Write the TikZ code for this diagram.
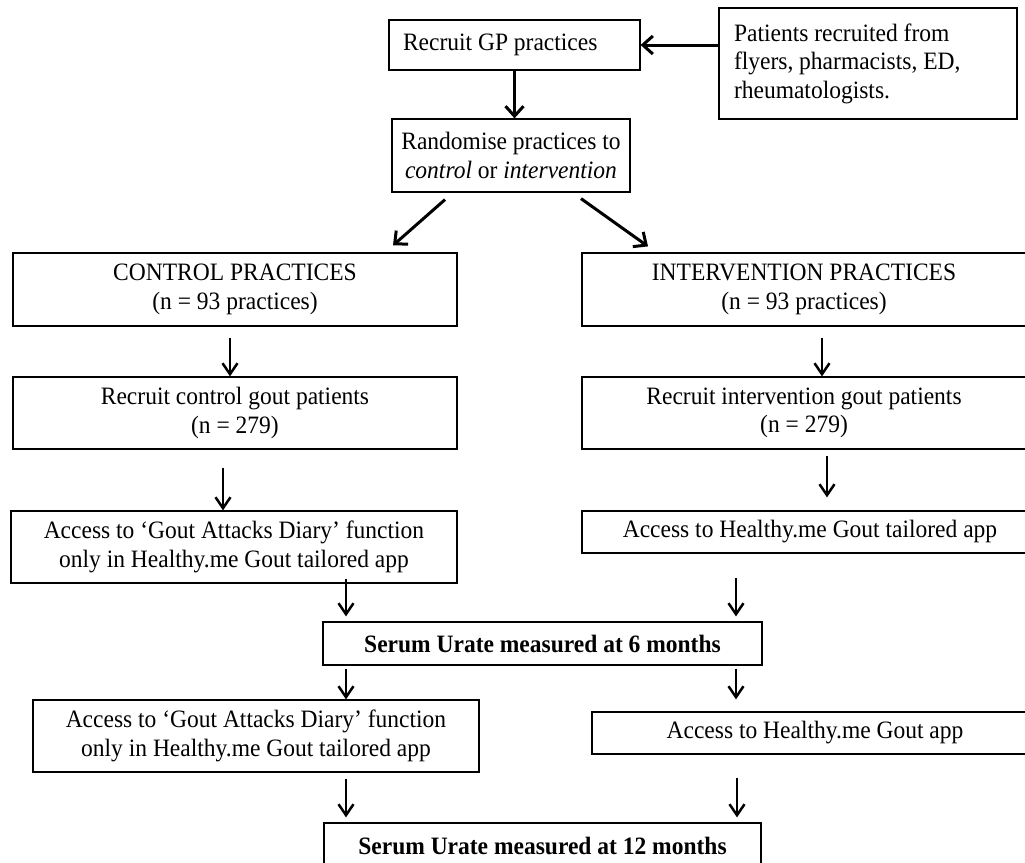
\documentclass[tikz,border=0pt]{standalone}
\usepackage{fontspec}
\setmainfont{Liberation Serif}[FakeStretch=0.94]
\usetikzlibrary{arrows.meta,shadows}
\begin{document}
\begin{tikzpicture}[x=1pt,y=-1pt,
  box/.style={draw=black, line width=1.2pt, fill=white, inner sep=0pt, align=center,
    font=\fontsize{25}{28.5}\selectfont,
    drop shadow={shadow xshift=1.3pt, shadow yshift=-1.3pt, fill=black!40, opacity=1}},
  bigarr/.style={line width=3pt, -{Straight Barb[length=10pt,width=18pt,line width=3pt]}},
  arr/.style={line width=2.5pt, -{Straight Barb[length=11pt,width=15pt,line width=2.5pt]}}]
\useasboundingbox (0,0) rectangle (1025,862);

\node[box, text width=223pt, align=flush left, inner xsep=14pt, minimum height=50pt] (gp) at (514.5,45) {Recruit GP practices};
\node[box, text width=268pt, align=flush left, inner xsep=15pt, minimum height=111pt] (pat) at (868,63.5)
  {Patients recruited from\\flyers, pharmacists, ED,\\rheumatologists.};
\node[box, minimum width=238pt, minimum height=73pt] (rand) at (511,155.5)
  {Randomise practices to\\\textit{control} or \textit{intervention}};

\node[box, minimum width=444pt, minimum height=73pt] (ctrl) at (235,289.5)
  {CONTROL PRACTICES\\(n = 93 practices)};
\node[box, minimum width=444pt, minimum height=73pt] (intv) at (804,289.5)
  {INTERVENTION PRACTICES\\(n = 93 practices)};

\node[box, minimum width=444pt, minimum height=72pt] (rc) at (235,413)
  {Recruit control gout patients\\(n = 279)};
\node[box, minimum width=444pt, minimum height=72pt] (ri) at (804,413)
  {Recruit intervention gout patients\\(n = 279)};

\node[box, minimum width=446pt, minimum height=72pt] (ac) at (234,547)
  {Access to ‘Gout Attacks Diary’ function\\only in Healthy.me Gout tailored app};
\node[box, minimum width=456pt, minimum height=42pt] (ai) at (810,532)
  {Access to Healthy.me Gout tailored app};

\node[box, minimum width=439pt, minimum height=43pt, font=\fontsize{25}{28.5}\selectfont\bfseries] (s6) at (542.5,643.5)
  {Serum Urate measured at 6 months};

\node[box, minimum width=446pt, minimum height=72pt] (ac2) at (256,736)
  {Access to ‘Gout Attacks Diary’ function\\only in Healthy.me Gout tailored app};
\node[box, minimum width=446pt, minimum height=42pt] (ai2) at (815,733)
  {Access to Healthy.me Gout app};

\node[box, minimum width=437pt, minimum height=46pt, font=\fontsize{25}{28.5}\selectfont\bfseries] (s12) at (542.5,846)
  {Serum Urate measured at 12 months};

% connectors
\draw[bigarr] (pat.west |- gp.east) -- (gp.east);
\draw[bigarr] (gp.south) -- (gp.south |- rand.north);
\draw[bigarr] ([shift={(-66,7)}]rand.south) -- ([shift={(158,-7)}]ctrl.north);
\draw[bigarr] ([shift={(70,6)}]rand.south) -- ([shift={(-156,-6)}]intv.north);

\draw[arr] ([shift={(-5,11)}]ctrl.south) -- ([xshift=-5]rc.north);
\draw[arr] ([shift={(18,11)}]intv.south) -- ([xshift=18]ri.north);
\draw[arr] ([shift={(-12,18)}]rc.south) -- ([xshift=-11]ac.north);
\draw[arr] ([shift={(23,6)}]ri.south) -- ([shift={(17,-13)}]ai.north);

\draw[arr] ([shift={(112,-5)}]ac.south) -- ([shift={(-196.5,-5)}]s6.north);
\draw[arr] ([shift={(-74,24)}]ai.south) -- ([shift={(193.5,-5)}]s6.north);
\draw[arr] ([shift={(-196.5,3)}]s6.south) -- ([xshift=90]ac2.north);
\draw[arr] ([shift={(193.5,3)}]s6.south) -- ([shift={(-79,-12)}]ai2.north);
\draw[arr] ([shift={(90,6)}]ac2.south) -- ([shift={(-196.5,-5)}]s12.north);
\draw[arr] ([shift={(-78,23)}]ai2.south) -- ([shift={(194.5,-5)}]s12.north);
\end{tikzpicture}
\end{document}
